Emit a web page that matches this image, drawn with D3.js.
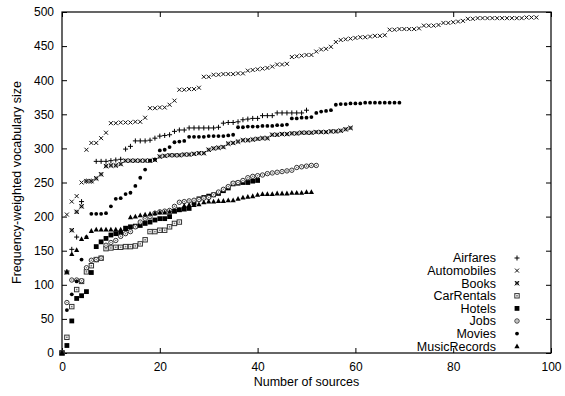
<!DOCTYPE html>
<html><head><meta charset="utf-8">
<script src="https://cdn.jsdelivr.net/npm/d3@7"></script>
<style>
html,body{margin:0;padding:0;background:#fff;}
svg text{font-family:"Liberation Sans",Arial,Helvetica,sans-serif;fill:#000;}
</style></head>
<body><svg id="c" width="565" height="396"></svg>
<script>
const seriesNames = ["Airfares","Automobiles","Books","CarRentals","Hotels","Jobs","Movies","MusicRecords"];
const airfares = [0,119,152,170,222,252,252,281,281,281,282,283,284,299,303,311,311,311,312,315,318,319,320,325,327,327,330,330,330,330,330,330,331,337,338,338,339,342,343,344,344,348,348,348,352,352,352,352,352,352,356];
const automobiles = [0,203,222,230,250,298,308,308,315,323,337,337,338,338,338,339,339,345,359,359,360,360,364,370,386,386,387,387,389,405,405,408,408,409,409,409,410,410,414,415,416,417,418,420,423,423,424,434,435,436,437,437,442,445,446,449,456,459,460,461,462,463,463,464,465,465,466,474,474,475,475,475,475,476,480,480,480,481,484,484,485,486,487,490,490,491,491,491,491,491,491,491,491,491,491,492,492,492];
const books = [0,118,180,207,215,252,252,256,262,274,275,275,277,282,282,282,282,282,282,283,288,289,290,290,290,291,291,292,293,293,298,300,301,302,307,308,310,312,312,313,314,315,315,320,320,321,321,322,322,323,323,323,324,324,324,325,325,326,328,330];
const carRentals = [0,23,68,93,105,119,128,137,139,153,154,155,155,156,156,157,160,166,178,178,180,180,185,190,192];
const hotels = [0,11,47,80,84,90,118,156,163,168,173,175,176,183,185,186,187,190,192,195,197,197,200,208,210,211,212,220,226,228,230,232,234,238,242,248,249,250,250,252,253];
const jobs = [0,74,107,107,106,125,136,137,139,158,162,165,171,175,178,185,192,197,200,205,207,208,209,215,221,222,223,224,225,227,228,232,236,240,244,249,250,253,257,259,260,261,263,264,265,266,267,268,272,273,274,275,275];
const movies = [0,63,86,105,137,170,204,204,204,205,215,226,227,233,235,245,257,269,282,284,297,298,302,309,310,311,317,317,317,317,318,318,318,318,319,320,331,331,332,332,332,333,333,333,334,334,335,344,344,345,345,346,352,354,355,356,364,365,365,366,366,366,367,367,367,367,367,367,367,367];
const musicRecords = [0,119,145,151,167,170,179,181,181,181,181,181,181,182,199,200,202,203,204,205,206,206,207,208,210,216,217,217,218,221,222,222,223,223,224,224,226,228,229,230,232,233,233,233,234,234,234,235,235,235,236,236];
const xTicks = [0,20,40,60,80,100];
const yTicks = [0,50,100,150,200,250,300,350,400,450,500];
const xTitle = "Number of sources";
const yTitle = "Frequency-weighted vocabulary size";

const seriesValues = [airfares,automobiles,books,carRentals,hotels,jobs,movies,musicRecords];
const markerKinds = ["plus","cross","star","sqOpen","sqFill","cirOpen","cirFill","tri"];

const svg = d3.select("#c");
const L=62,R=551,T=12,B=353;
const x = d3.scaleLinear().domain([0,100]).range([L,R]);
const y = d3.scaleLinear().domain([0,500]).range([B,T]);

function drawMarker(g, kind){
  if(kind==="plus"){g.append("path").attr("d","M-2.5,0H2.5M0,-2.5V2.5").attr("stroke","#000").attr("stroke-width",1).attr("fill","none");}
  else if(kind==="cross"){g.append("path").attr("d","M-2,-2L2,2M-2,2L2,-2").attr("stroke","#111").attr("stroke-width",1).attr("fill","none");}
  else if(kind==="star"){g.append("rect").attr("x",-2).attr("y",-2).attr("width",4).attr("height",4).attr("fill","#888");
    g.append("path").attr("d","M-2.2,-2.2L2.2,2.2M-2.2,2.2L2.2,-2.2").attr("stroke","#000").attr("stroke-width",1).attr("fill","none");}
  else if(kind==="sqOpen"){g.append("rect").attr("x",-2.2).attr("y",-2.2).attr("width",4.4).attr("height",4.4).attr("stroke","#333").attr("stroke-width",1).attr("fill","#fff");
    g.append("rect").attr("x",-0.8).attr("y",-0.8).attr("width",1.6).attr("height",1.6).attr("fill","#777");}
  else if(kind==="sqFill"){g.append("rect").attr("x",-2.4).attr("y",-2.4).attr("width",4.8).attr("height",4.8).attr("fill","#000");}
  else if(kind==="cirOpen"){g.append("circle").attr("r",2.2).attr("stroke","#333").attr("stroke-width",1).attr("fill","#fff");
    g.append("circle").attr("r",0.8).attr("fill","#777");}
  else if(kind==="cirFill"){g.append("circle").attr("r",1.9).attr("fill","#000");}
  else if(kind==="tri"){g.append("path").attr("d","M0,-2.8L2.6,2L-2.6,2Z").attr("fill","#000");}
}

const ax = svg.append("g");
ax.append("g").attr("transform",`translate(0,${B})`).call(d3.axisBottom(x).tickValues(xTicks).tickSizeInner(-5).tickSizeOuter(0).tickPadding(9));
ax.append("g").attr("transform",`translate(0,${T})`).call(d3.axisTop(x).tickValues(xTicks).tickSizeInner(-5).tickSizeOuter(0).tickFormat(""));
ax.append("g").attr("transform",`translate(${L},0)`).call(d3.axisLeft(y).tickValues(yTicks).tickSizeInner(-5).tickSizeOuter(0).tickPadding(8));
ax.append("g").attr("transform",`translate(${R},0)`).call(d3.axisRight(y).tickValues(yTicks).tickSizeInner(-5).tickSizeOuter(0).tickFormat(""));
ax.selectAll(".domain").remove();
ax.selectAll(".tick line").attr("stroke","#000");
ax.selectAll(".tick text").attr("font-size",12).attr("font-family","Liberation Sans, Arial, sans-serif").attr("fill","#000");
svg.append("rect").attr("x",L).attr("y",T).attr("width",R-L).attr("height",B-T).attr("fill","none").attr("stroke","#000").attr("stroke-width",1.2);

seriesValues.forEach((vals,si)=>{
  const g = svg.append("g");
  vals.forEach((v,i)=>{
    const m = g.append("g").attr("transform",`translate(${x(i)},${y(v)})`);
    drawMarker(m, markerKinds[si]);
  });
});

const lg = svg.append("g");
seriesNames.forEach((n,i)=>{
  const yy = 258 + i*12.6;
  lg.append("text").attr("x",496).attr("y",yy).attr("dy","0.35em").attr("text-anchor","end").attr("font-size",12.5).text(n);
  const m = lg.append("g").attr("transform",`translate(517,${yy})`);
  drawMarker(m, markerKinds[i]);
});

svg.append("text").attr("x",(L+R)/2).attr("y",386).attr("text-anchor","middle").attr("font-size",12.5).text(xTitle);
svg.append("text").attr("transform",`translate(21,${(T+B)/2}) rotate(-90)`).attr("text-anchor","middle").attr("font-size",12.5).text(yTitle);
</script></body></html>
